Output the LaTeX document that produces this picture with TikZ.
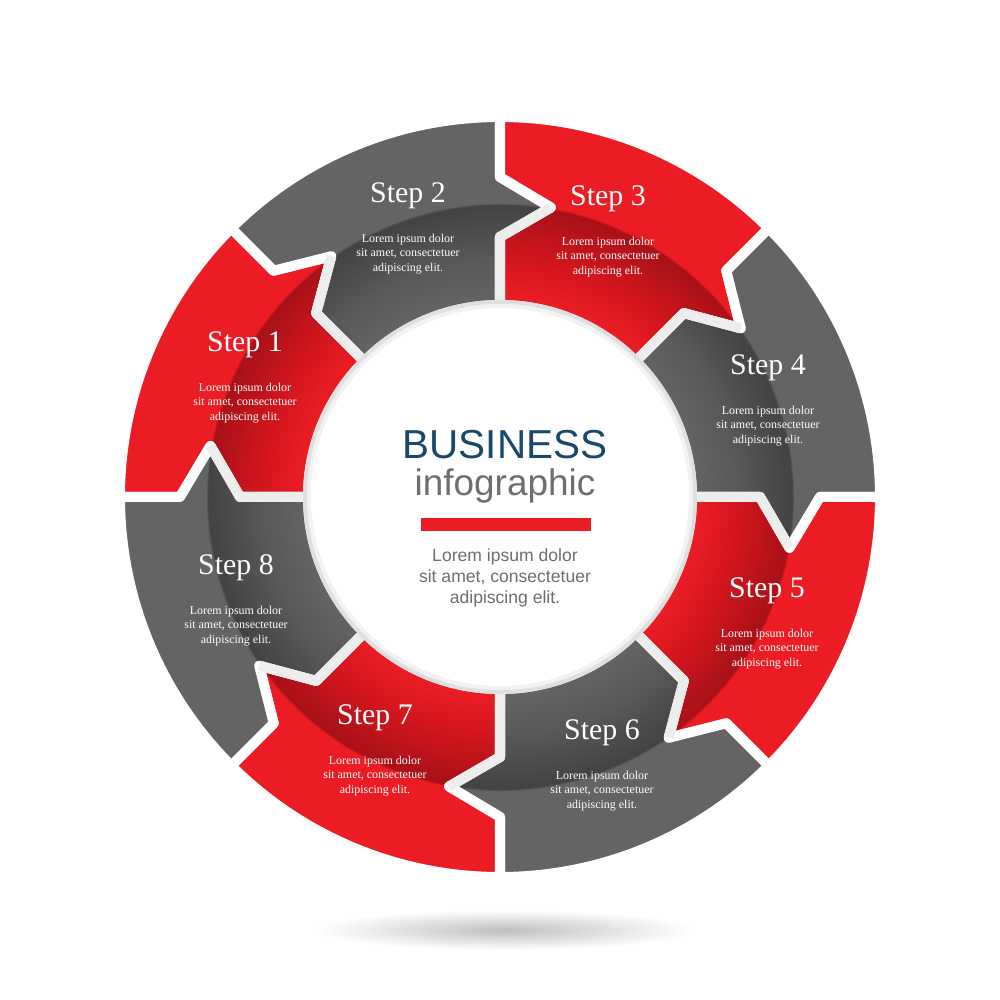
\documentclass[tikz,border=0pt]{standalone}
\usepackage{fontspec}
\setmainfont{Liberation Serif}
\newfontfamily\arial{Liberation Sans}

\definecolor{rojo}{HTML}{EC1C24}
\definecolor{rojomedio}{HTML}{D3161E}
\definecolor{rojooscuro}{HTML}{A81118}
\definecolor{gris}{HTML}{646464}
\definecolor{grismedio}{HTML}{585858}
\definecolor{grisoscuro}{HTML}{434343}
\definecolor{azul}{HTML}{18486A}
\definecolor{gristexto}{HTML}{6D6E71}

% sombreado del carril interior de cada flecha (1px = 0.567bp)
\pgfdeclareradialshading{anillorojo}{\pgfpoint{0bp}{0bp}}{color(0bp)=(rojo); color(111bp)=(rojo); color(135bp)=(rojomedio); color(165.5bp)=(rojooscuro); color(166.7bp)=(rojo); color(218bp)=(rojo)}
\pgfdeclareradialshading{anillogris}{\pgfpoint{0bp}{0bp}}{color(0bp)=(gris); color(111bp)=(gris); color(135bp)=(grismedio); color(165.5bp)=(grisoscuro); color(166.7bp)=(gris); color(218bp)=(gris)}

\tikzset{
  pieza/.style={insert path={(#1:380) arc[start angle=#1, end angle=#1-45, radius=380]
    -- (#1-45:320) -- (#1-55:294) -- (#1-45:260) -- (#1-45:192)
    arc[start angle=#1-45, end angle=#1, radius=192]
    -- (#1:260) -- (#1-10:294) -- (#1:320) -- cycle}},
  hueco/.style={draw=white, line width=2mm, line join=round},
  bisel/.style={draw=black!7, line width=2mm, line join=round},
  paso/.style={text=white, font=\fontsize{17}{20}\selectfont},
  lorem/.style={text=white, align=center, font=\fontsize{6.8}{8.1}\selectfont},
}

\begin{document}
\begin{tikzpicture}[x=0.2mm, y=0.2mm]
    \useasboundingbox (-500,-503) rectangle (500,497);

    % Sombra bajo el anillo
    \shade[inner color=black!25, outer color=white] (5,-433) ellipse (190 and 20);

    % Flechas del anillo (de Step 1 en sentido horario)
    \foreach \a/\sombra in {180/anillorojo, 135/anillogris, 90/anillorojo, 45/anillogris,
                            0/anillorojo, -45/anillogris, -90/anillorojo, -135/anillogris}{
        \begin{scope}
            \clip[pieza=\a];
            \node[inner sep=0pt] (sombra\a) at (0,0) {\pgfuseshading{\sombra}};
        \end{scope}
        \path[hueco, pieza=\a];
    }
    \foreach \a in {180,135,...,-135}
        \draw[bisel] (\a:192) -- (\a:260) -- (\a-10:294);

    % Circulo central
    \fill[black!12] (0,0) circle (197);
    \fill[black!5] (0,0) circle (193);
    \fill[white] (0,0) circle (189);

    % Textos de los pasos
    \foreach \n/\x/\y in {1/-255/152, 2/-92/301, 3/108/298, 4/268/129,
                          5/267/-94, 6/102/-236, 7/-125/-221, 8/-264/-71}{
        \node[paso] (paso\n) at (\x,\y) {Step \n};
        \node[lorem] (lorem\n) at (\x,\y-58) {Lorem ipsum dolor\\sit amet, consectetuer\\adipiscing elit.};
    }

    % Titulo central
    \node[font=\arial\fontsize{23}{26}\selectfont, text=azul] (titulo) at (5,52) {BUSINESS};
    \node[font=\arial\fontsize{21}{24}\selectfont, text=gristexto] (subtitulo) at (5,11) {infographic};
    \fill[rojo] (-79,-21) rectangle (91,-34);
    \node[font=\arial\fontsize{10}{12.2}\selectfont, text=gristexto, align=center] (centro) at (5,-81)
        {Lorem ipsum dolor\\sit amet, consectetuer\\adipiscing elit.};
\end{tikzpicture}
\end{document}
